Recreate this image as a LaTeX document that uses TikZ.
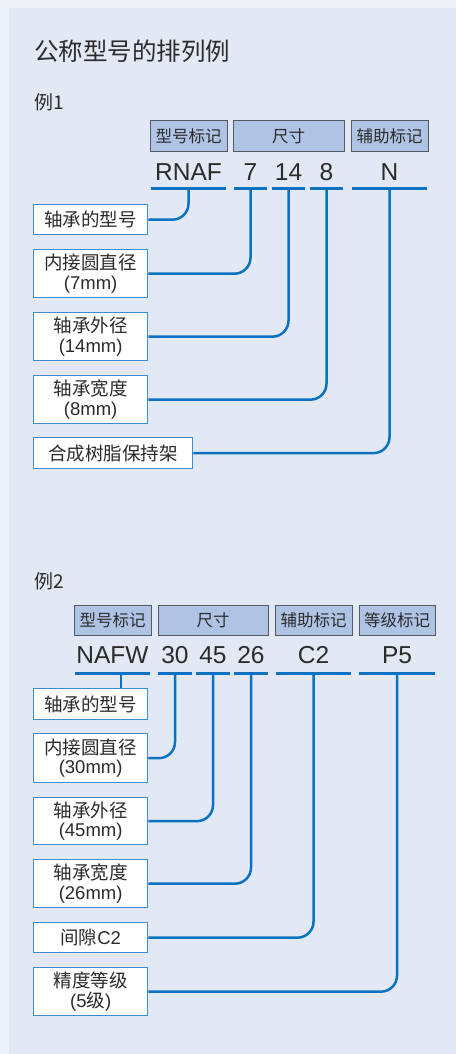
\documentclass[tikz,border=0pt]{standalone}
\usepackage{fontspec}
\setmainfont{Liberation Sans}
\newfontfamily\cjk{Noto Sans CJK SC}
\definecolor{outerbg}{HTML}{EEF2F8}
\definecolor{panelbg}{HTML}{E2E8F4}
\definecolor{hdrfill}{HTML}{AFC4E4}
\definecolor{hdrline}{HTML}{555A62}
\definecolor{linkblue}{HTML}{0A72C0}
\definecolor{boxline}{HTML}{3C8DD0}
\definecolor{txt}{HTML}{2B2B2B}
\tikzset{
  hdr/.style={draw=hdrline, fill=hdrfill, line width=1pt, minimum height=30pt, inner sep=0pt,
    font=\cjk\fontsize{16.5}{18}\selectfont, text=txt},
  code/.style={font=\fontsize{24.5}{26}\selectfont, inner sep=0pt, anchor=base, text=txt},
  ulline/.style={draw=linkblue, line width=2.5pt},
  conn/.style={draw=linkblue, line width=2.5pt, rounded corners=16pt},
  lbl/.style={draw=boxline, fill=white, line width=1.3pt, inner sep=0pt, align=center,
    font=\cjk\fontsize{18.5}{19.5}\selectfont, text=txt, anchor=north west, minimum width=114pt},
  lbltitle/.style={font=\cjk\fontsize{24.5}{26}\selectfont, text=txt, anchor=base west, inner sep=0pt},
  exlbl/.style={font=\cjk\fontsize{19}{20}\selectfont, text=txt, anchor=base west, inner sep=0pt}
}
\begin{document}
\begin{tikzpicture}[x=1pt,y=-1pt]
\useasboundingbox (0,0) rectangle (456,1054);
\fill[outerbg] (0,0) rectangle (456,1054);
\fill[panelbg] (9,8) rectangle (456,1054);

\node[lbltitle] (title) at (34,61) {公称型号的排列例};

% ---------------- Example 1
\node[exlbl] (ex1) at (34,110) {例1};
\node[hdr, minimum width=77pt] (h11) at (188.5,136) {型号标记};
\node[hdr, minimum width=111pt] (h12) at (288.5,136) {尺寸};
\node[hdr, minimum width=77pt] (h13) at (389.5,136) {辅助标记};

\node[code, minimum width=75pt] (c11) at (188.5,180) {RNAF};
\node[code, minimum width=33pt] (c12) at (250.5,180) {7};
\node[code, minimum width=33pt] (c13) at (288.5,180) {14};
\node[code, minimum width=33pt] (c14) at (326.5,180) {8};
\node[code, minimum width=75pt] (c15) at (389.5,180) {N};
\foreach \n in {c11,c12,c13,c14,c15}{
  \draw[ulline] ([yshift=-8.3pt]\n.base west) -- ([yshift=-8.3pt]\n.base east);
  \coordinate (\n u) at ([yshift=-8.3pt]\n.base);
}

\node[lbl, minimum height=30pt] (b11) at (33,204) {轴承的型号};
\node[lbl, minimum height=48pt] (b12) at (33,249) {内接圆直径\\{\rmfamily(7mm)}};
\node[lbl, minimum height=48pt] (b13) at (33,312) {轴承外径\\{\rmfamily(14mm)}};
\node[lbl, minimum height=48pt] (b14) at (33,375) {轴承宽度\\{\rmfamily(8mm)}};
\node[lbl, minimum height=31pt, minimum width=159pt] (b15) at (33,437) {合成树脂保持架};

\draw[conn] (b11.east) -| (c11u);
\draw[conn] (b12.east) -| (c12u);
\draw[conn] (b13.east) -| (c13u);
\draw[conn] (b14.east) -| (c14u);
\draw[conn] (b15.east) -| (c15u);

% ---------------- Example 2
\node[exlbl] (ex2) at (34,588) {例2};
\node[hdr, minimum width=77pt] (h21) at (112.5,620) {型号标记};
\node[hdr, minimum width=110pt] (h22) at (213,620) {尺寸};
\node[hdr, minimum width=77pt] (h23) at (313.5,620) {辅助标记};
\node[hdr, minimum width=76pt] (h24) at (397,620) {等级标记};

\node[code, minimum width=75pt] (c21) at (112.5,663.3) {NAFW};
\node[code, minimum width=34pt] (c22) at (175,663.3) {30};
\node[code, minimum width=34pt] (c23) at (213,663.3) {45};
\node[code, minimum width=34pt] (c24) at (251,663.3) {26};
\node[code, minimum width=75pt] (c25) at (313.5,663.3) {C2};
\node[code, minimum width=76pt] (c26) at (397,663.3) {P5};
\foreach \n in {c21,c22,c23,c24,c25,c26}{
  \draw[ulline] ([yshift=-10pt]\n.base west) -- ([yshift=-10pt]\n.base east);
  \coordinate (\n u) at ([yshift=-10pt]\n.base);
}
\coordinate (c21v) at ([xshift=8.5pt]c21u);

\node[lbl, minimum height=31pt] (b21) at (33,688) {轴承的型号};
\node[lbl, minimum height=49pt] (b22) at (33,733) {内接圆直径\\{\rmfamily(30mm)}};
\node[lbl, minimum height=47pt] (b23) at (33,797) {轴承外径\\{\rmfamily(45mm)}};
\node[lbl, minimum height=48pt] (b24) at (33,859) {轴承宽度\\{\rmfamily(26mm)}};
\node[lbl, minimum height=30pt] (b25) at (33,922) {间隙{\rmfamily C2}};
\node[lbl, minimum height=48pt] (b26) at (33,967) {精度等级\\{\rmfamily(5}级{\rmfamily)}};

\draw[ulline] (c21v) -- (c21v |- b21.north);
\draw[conn] (b22.east) -| (c22u);
\draw[conn] (b23.east) -| (c23u);
\draw[conn] (b24.east) -| (c24u);
\draw[conn] (b25.east) -| (c25u);
\draw[conn] (b26.east) -| (c26u);
\end{tikzpicture}
\end{document}
